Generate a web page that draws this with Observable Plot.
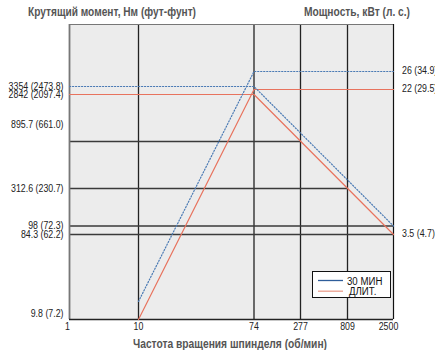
<!DOCTYPE html>
<html><head><meta charset="utf-8">
<script src="https://cdn.jsdelivr.net/npm/d3@7"></script>
<script src="https://cdn.jsdelivr.net/npm/@observablehq/plot@0.6"></script>
<style>
body{margin:0;background:#fff;}
#wrap{position:relative;width:435px;height:350px;overflow:hidden;font-family:"Liberation Sans",Arial,sans-serif;}
.title{position:absolute;font-weight:bold;color:#555;font-size:13px;white-space:nowrap;line-height:15px;transform-origin:0 50%;}
#legend{position:absolute;left:312px;top:271px;width:77px;height:25px;background:#fff;border:1px solid #111;}
</style></head><body>
<div id="wrap">
  <div class="title" id="tl" style="left:28px;top:4px;"></div>
  <div class="title" id="tr" style="left:304px;top:4px;"></div>
  <div class="title" id="tx" style="left:133px;top:336px;"></div>
  <div id="legend"></div>
</div>
<script>
// ---- data ----
const titleLeft = "Крутящий момент, Нм (фут-фунт)";
const titleRight = "Мощность, кВт (л. с.)";
const titleX = "Частота вращения шпинделя (об/мин)";

const rpmTicks = [1, 10, 74, 277, 809, 2500];
const torqueTicks = [9.8, 84.3, 98, 312.6, 895.7, 2842, 3354];
const torqueTickLabels = ["9.8 (7.2)", "84.3 (62.2)", "98 (72.3)", "312.6 (230.7)", "895.7 (661.0)", "2842 (2097.4)", "3354 (2473.8)"];
// right-hand (power) tick labels, placed at the matching height of the torque axis
const powerTickLabels = ["26 (34.9)", "22 (29.5)", "3.5 (4.7)"];
const powerTickAt = [3752, 3162, 84.3];

// torque curves
const torqueRpm = [1, 74, 2500];
const torque30 = [3354, 3354, 98];
const torqueCont = [2842, 2842, 84.3];
// power curves (heights read on the torque axis)
const powerRpm = [10, 74, 2500];
const power30 = [25.6, 3752, 3752];
const powerCont = [9.8, 3162, 3162];

// drop lines from the torque curve to the left axis
const dropRpm = [277, 809, 2500, 2500];
const dropTorque = [895.7, 312.6, 98, 84.3];
const gridRpm = [10, 74, 277, 809];
const yTop = 5000;

const legendLabels = ["30 МИН", "ДЛИТ."];

// ---- layout ----
const W = 435, H = 350, ML = 69, MR = 42, MT = 24, MB = 31;
const xRange = [69, 138, 253.5, 300, 347, 393];
const yDomain = [...torqueTicks, yTop];
const yRange = [319, 234, 225.5, 188, 141, 94, 86, 24];

const blue = "#4a7ab4", red = "#e8735e";
const font = '"Liberation Sans",Arial,sans-serif';
const squeeze = 0.84;

const toRows = (xs, ys) => xs.map((x, i) => ({x, y: ys[i]}));
const drops = dropRpm.map((r, i) => ({x1: rpmTicks[0], x2: r, y: dropTorque[i]}));
const leftLab = torqueTicks.map((v, i) => ({v, label: torqueTickLabels[i]}));
const rightLab = powerTickAt.map((v, i) => ({v, label: powerTickLabels[i]}));
const dotted = {stroke: blue, strokeWidth: 1.2, strokeDasharray: "1.2 1.8"};

const chart = Plot.plot({
  width: W, height: H,
  marginLeft: ML, marginRight: MR, marginTop: MT, marginBottom: MB,
  x: {type: "linear", domain: rpmTicks, range: xRange, axis: null},
  y: {type: "linear", domain: yDomain, range: yRange, axis: null},
  style: {fontFamily: font, fontSize: "10.5px", background: "transparent", overflow: "visible"},
  marks: [
    Plot.frame({fill: "#ececec", stroke: null}),
    Plot.ruleX(gridRpm, {x: d => d, stroke: "#222", strokeWidth: 1.3}),
    Plot.ruleY(drops, {y: "y", x1: "x1", x2: "x2", stroke: "#3a3a3a", strokeWidth: 1.5}),
    Plot.ruleX([rpmTicks[0]], {x: d => d, stroke: "#777", strokeWidth: 1.8}),
    Plot.ruleY([yTop], {y: d => d, stroke: "#777", strokeWidth: 1}),
    Plot.ruleX([rpmTicks[rpmTicks.length - 1]], {x: d => d, stroke: "#111", strokeWidth: 1.2}),
    Plot.ruleY([torqueTicks[0]], {y: d => d, stroke: "#222", strokeWidth: 1.5}),
    Plot.line(toRows(torqueRpm, torqueCont), {x: "x", y: "y", stroke: red, strokeWidth: 1.2}),
    Plot.line(toRows(powerRpm, powerCont), {x: "x", y: "y", stroke: red, strokeWidth: 1.2}),
    Plot.line(toRows(torqueRpm, torque30), {x: "x", y: "y", ...dotted}),
    Plot.line(toRows(powerRpm, power30), {x: "x", y: "y", ...dotted}),
    // x tick labels
    Plot.text(rpmTicks.slice(1, -1), {x: d => d, text: d => String(d), frameAnchor: "bottom", dy: 10, fill: "#222"}),
    Plot.text(rpmTicks.slice(0, 1), {x: d => d, text: d => String(d), frameAnchor: "bottom", dy: 10, dx: -2, fill: "#222"}),
    Plot.text(rpmTicks.slice(-1), {x: d => d, text: d => String(d), frameAnchor: "bottom", dy: 10, dx: -5, fill: "#222"}),
    // left tick labels
    Plot.text(leftLab, {filter: d => d.v !== 9.8 && d.v !== 895.7, y: "v", text: "label", frameAnchor: "left", dx: -6, textAnchor: "end", fill: "#222"}),
    Plot.text(leftLab, {filter: d => d.v === 9.8, y: "v", text: "label", frameAnchor: "left", dx: -6, dy: -6, textAnchor: "end", fill: "#222"}),
    Plot.text(leftLab, {filter: d => d.v === 895.7, y: "v", text: "label", frameAnchor: "left", dx: -6, dy: -17, textAnchor: "end", fill: "#222"}),
    // right tick labels
    Plot.text(rightLab, {y: "v", text: "label", frameAnchor: "right", dx: 8.5, dy: -1, textAnchor: "start", fill: "#222"})
  ]
});
// narrow the tick labels horizontally around their anchor (condensed face)
chart.querySelectorAll("text").forEach(t => {
  const tr = t.getAttribute("transform") || "";
  t.setAttribute("transform", tr + ` scale(${squeeze},1)`);
});
const wrap = document.getElementById("wrap");
chart.style.position = "absolute";
chart.style.left = "0px";
chart.style.top = "0px";
wrap.insertBefore(chart, wrap.firstChild);

// titles, condensed to the reference widths
const titles = [["tl", titleLeft, 168], ["tr", titleRight, 106], ["tx", titleX, 194]];
titles.forEach(([id, txt, w]) => {
  const el = document.getElementById(id);
  el.textContent = txt;
  const k = w / el.getBoundingClientRect().width;
  el.style.transform = `scaleX(${k})`;
});

// legend
const lg = d3.select("#legend").append("svg").attr("width", 77).attr("height", 25)
  .style("font-family", font).style("font-size", "11.5px");
const legendColors = ["#2e5d9a", "#eba08e"];
legendLabels.forEach((t, i) => {
  const y = 8.5 + i * 10.7;
  lg.append("line").attr("x1", 5).attr("x2", 30).attr("y1", y).attr("y2", y)
    .attr("stroke", legendColors[i]).attr("stroke-width", 1.3);
  lg.append("text").attr("transform", `translate(${34 + i * 2},${y}) scale(${squeeze},1)`).attr("dy", "0.36em")
    .attr("fill", "#111").text(t);
});
</script>
</body></html>
